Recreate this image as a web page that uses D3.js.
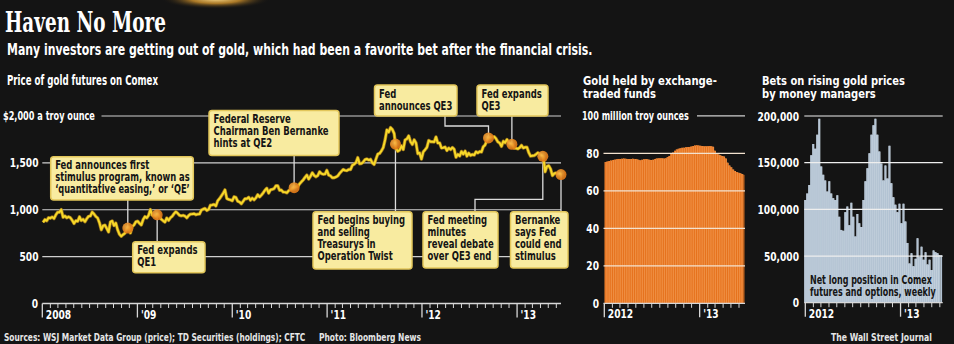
<!DOCTYPE html>
<html><head><meta charset="utf-8">
<script src="https://cdn.jsdelivr.net/npm/d3@7"></script>
<style>html,body{margin:0;padding:0;background:#141414;}svg{display:block;}</style>
</head><body>
<svg id="c" width="954" height="344"></svg>
<script>
// ---------------- DATA ----------------
// Gold futures price, weekly (Fridays) from 2008-01-04, $ per troy ounce
const goldStart = "2008-01-04";
const goldPrice = [
  865,895,882,915, 910,923,906,945,973, 974,1001,920,934, 914,925,915,888, 853,883,877,925,885, 899,872,904,930, 933,975,955,928, 912,861,786,829,836, 800,763,870,880, 831,858,785,737,718, 735,750,792,815, 752,822,838,872,
  878,855,838,895,927, 913,940,1002,942, 940,930,953,925, 898,882,868,912, 887,915,931,958,979, 962,941,935,940, 932,913,938,953,954, 958,947,953,955, 996,1006,1014,992, 1004,1049,1051,1057,1040, 1096,1118,1147,1176, 1212,1120,1110,1105,
  1096,1138,1131,1091,1083, 1064,1091,1118,1118, 1134,1102,1124,1105, 1126,1161,1136,1156,1180, 1209,1229,1177,1213, 1218,1226,1256,1256, 1208,1210,1189,1188,1181, 1204,1215,1227,1236, 1246,1246,1276,1298, 1318,1346,1370,1327,1357, 1394,1366,1352,1364, 1406,1385,1379,1380,1421,
  1369,1361,1342,1341, 1349,1361,1388,1409, 1429,1420,1417,1429, 1429,1474,1486,1504,1556, 1491,1492,1510,1536, 1542,1530,1538,1500, 1483,1541,1594,1601,1628, 1663,1744,1852,1828, 1877,1856,1813,1656,1624, 1636,1682,1642,1745, 1755,1788,1725,1696, 1746,1713,1598,1606,1540,
  1617,1640,1665,1739, 1726,1725,1723,1777, 1711,1713,1659,1662,1669, 1631,1659,1642,1664, 1645,1560,1591,1573, 1622,1593,1627,1572,1604, 1579,1590,1583,1619, 1606,1621,1616,1673,1691, 1740,1770,1773,1775, 1780,1758,1724,1712, 1676,1731,1714,1750,1713, 1705,1696,1657,1656,
  1649,1662,1687,1658, 1667,1667,1609,1572, 1576,1578,1592,1608,1595, 1581,1565,1405,1462, 1470,1434,1365,1386,1393, 1383,1387,1370
];
const priceTicks = [0, 500, 1000, 1500, 2000];
const priceTickLabels = ["0", "500", "1,000", "1,500", "$2,000 a troy ounce"];
const leftYearLabels = ["2008", "'09", "'10", "'11", "'12", "'13"];

const eventDates = ["2008-11-25","2009-03-18","2010-08-27","2011-09-21","2012-09-13","2012-12-12","2013-04-10","2013-06-19"];
const eventTexts = [
  ["Fed announces first", "stimulus program, known as", "\u2018quantitative easing,\u2019 or \u2018QE\u2019"],
  ["Fed expands", "QE1"],
  ["Federal Reserve", "Chairman Ben Bernanke", "hints at QE2"],
  ["Fed begins buying", "and selling", "Treasurys in", "Operation Twist"],
  ["Fed", "announces QE3"],
  ["Fed expands", "QE3"],
  ["Fed meeting", "minutes", "reveal debate", "over QE3 end"],
  ["Bernanke", "says Fed", "could end", "stimulus"]
];

// Gold held by ETFs, weekly from 2012-01-06, million troy ounces
const etfStart = "2012-01-06";
const etfHoldings = [
  75.3,75.6,75.9,76.2, 76.4,76.6,76.8,77.0, 77.0,77.1,77.2,77.1,77.0, 76.9,77.0,77.1,77.0, 77.0,76.6,76.3,76.5, 76.8,76.9,76.8,76.6,76.4,
  76.5,76.9,77.2,77.3, 77.4,77.3,77.2,77.4,78.0, 78.6,79.6,80.4,81.3, 82.0,82.4,82.7,82.9, 83.0,83.2,83.3,83.4,83.6, 83.9,84.2,84.3,84.2,
  84.0,83.9,83.8,83.8, 83.8,83.9,83.8,83.5, 81.4,80.0,79.4,78.9,78.5, 78.3,77.2,75.0,73.5, 72.5,71.4,70.6,70.0,69.6, 69.3,68.9,68.5
];
const etfTicks = [0, 20, 40, 60, 80, 100];
const etfTickLabels = ["0", "20", "40", "60", "80", "100 million troy ounces"];
const midYearLabels = ["2012", "'13"];

// Net long position of money managers in Comex gold futures & options (thousand contracts)
const netLongK = [
  110,117,126,158,170,165,180,197,146,137, 131,119,130,117,112,110,115,92,78,77,
  97,103,83,107,92,71,95,85,81,110, 130,144,160,180,190,197,180,162,149,131,
  147,133,168,128,113,105,97,106,85,106, 87,64,42,53,39,47,69,49,60,46,
  54,41,46,35,56,54,53,51,51
];
const betTicks = [0, 50000, 100000, 150000, 200000];
const betTickLabels = ["0", "50,000", "100,000", "150,000", "200,000"];
const rightYearLabels = ["2012", "'13"];

// ---------------- LAYOUT / STYLE ----------------
const SANS = "'DejaVu Sans Condensed','Liberation Sans Narrow','Arial Narrow',sans-serif";
const SERIF = "'DejaVu Serif Condensed','Liberation Serif',serif";
const GRID = "#cfcfcf";
const svg = d3.select("#c");

const defs = svg.append("defs");
const glow = defs.append("radialGradient").attr("id","glow");
glow.append("stop").attr("offset","0%").attr("stop-color","#f7d88a");
glow.append("stop").attr("offset","45%").attr("stop-color","#c48a2a").attr("stop-opacity",0.85);
glow.append("stop").attr("offset","100%").attr("stop-color","#141414").attr("stop-opacity",0);
const dotG = defs.append("radialGradient").attr("id","dot").attr("cx","40%").attr("cy","40%");
dotG.append("stop").attr("offset","0%").attr("stop-color","#f9b84a");
dotG.append("stop").attr("offset","100%").attr("stop-color","#e07a18");

svg.append("rect").attr("width",954).attr("height",344).attr("fill","#141414");
svg.append("ellipse").attr("cx",216).attr("cy",-1).attr("rx",55).attr("ry",10).attr("fill","url(#glow)");

// text helper: horizontally condensed with a transform so its box matches what is drawn
function label(g, x, y, s, o = {}) {
  const t = g.append("text").attr("x", 0).attr("y", 0).text(s)
    .attr("font-family", o.family || SANS).attr("font-weight", o.weight || "bold")
    .attr("font-size", o.size || 11.5).attr("fill", o.fill || "#fff")
    .attr("text-anchor", o.anchor || "start");
  const w = t.node().getComputedTextLength();
  let k = o.k || 0.8;
  if (o.width) k = o.width / w;
  else if (o.max && w * k > o.max) k = o.max / w;
  t.attr("transform", `translate(${x},${y}) scale(${k.toFixed(4)},1)`);
  return t;
}

// Titles
label(svg, 5, 32, "Haven No More", {family: SERIF, size: 27, width: 161});
label(svg, 7, 55, "Many investors are getting out of gold, which had been a favorite bet after the financial crisis.", {size: 15, width: 586});
label(svg, 7, 85, "Price of gold futures on Comex", {size: 13.5, width: 151});
label(svg, 583, 84.5, "Gold held by exchange-", {size: 12.5, width: 134});
label(svg, 583, 97.5, "traded funds", {size: 12.5, width: 73});
label(svg, 762, 84.5, "Bets on rising gold prices", {size: 12.5, width: 143});
label(svg, 762, 97.5, "by money managers", {size: 12.5, width: 114});
label(svg, 4, 341, "Sources: WSJ Market Data Group (price); TD Securities (holdings); CFTC", {size: 10.5, width: 302, fill: "#e6e6e6"});
label(svg, 319, 341, "Photo: Bloomberg News", {size: 10.5, width: 102, fill: "#e6e6e6"});
label(svg, 831, 341, "The Wall Street Journal", {size: 10.5, width: 101, fill: "#e6e6e6"});

const parse = d3.utcParse("%Y-%m-%d");
const DAY = 864e5, WEEK = 7 * DAY;

// shared axis drawer
function timeAxis(g, x, y0, from, to, labels, x0, x1) {
  g.append("line").attr("x1", x0).attr("x2", x1).attr("y1", y0).attr("y2", y0)
    .attr("stroke", "#d8d8d8").attr("stroke-width", 1.3);
  const months = d3.utcMonth.range(from, to);
  g.selectAll(null).data(months).join("line")
    .attr("x1", d => x(d)).attr("x2", d => x(d))
    .attr("y1", y0).attr("y2", d => y0 + (d.getUTCMonth() === 0 ? 14 : 4.5))
    .attr("stroke", "#d8d8d8").attr("stroke-width", d => d.getUTCMonth() === 0 ? 1.3 : 1);
  months.filter(d => d.getUTCMonth() === 0).forEach((d, i) => {
    label(g, x(d) + 3.5, y0 + 15, labels[i], {size: 11.5, k: 0.88});
  });
}

// ---------------- LEFT: gold price ----------------
const L = svg.append("g");
const xL = d3.scaleUtc().domain([parse("2008-01-01"), parse("2013-06-19")]).range([42.3, 561]);
const yL = d3.scaleLinear().domain([0, 2000]).range([303.5, 116]);

priceTicks.forEach((t, i) => {
  if (t === 0) { label(L, 38, yL(t) + 4, priceTickLabels[i], {anchor: "end", k: 0.88}); return; }
  const x0 = t === 2000 ? 101.5 : 42.3;
  L.append("line").attr("x1", x0).attr("x2", 561).attr("y1", yL(t)).attr("y2", yL(t))
    .attr("stroke", GRID).attr("stroke-width", 1.2);
  if (t === 2000) label(L, 3, yL(t) + 4, priceTickLabels[i], {width: 92});
  else label(L, 38.5, yL(t) + 4.5, priceTickLabels[i], {anchor: "end", k: 0.88});
});
timeAxis(L, xL, yL(0), parse("2008-01-01"), parse("2013-06-20"), leftYearLabels, 42.3, 561);

const g0 = parse(goldStart).getTime();
const goldPts = goldPrice.map((v, i) => ({d: new Date(g0 + i * WEEK), v}));
function priceAt(date) {
  const f = (date.getTime() - g0) / WEEK;
  const i = Math.max(0, Math.min(goldPrice.length - 2, Math.floor(f)));
  const t = f - i;
  return goldPrice[i] * (1 - t) + goldPrice[i + 1] * t;
}

// annotation box layout: box rect, optional leader anchor x on box & elbow y
const boxes = [
  {x: 50.7, y: 156.7, w: 142.6, h: 43.3},
  {x: 132.7, y: 241.7, w: 72.3, h: 31},
  {x: 209, y: 110.5, w: 130, h: 45},
  {x: 313, y: 211.7, w: 99, h: 57.3},
  {x: 374.5, y: 85, w: 82.5, h: 31, ax: 445, ey: 126},
  {x: 477, y: 85, w: 71, h: 31},
  {x: 423, y: 211.7, w: 75, h: 56.3, ax: 475, ey: 199.3},
  {x: 510.5, y: 211.7, w: 57.5, h: 56.3}
];

const events = eventDates.map((s, i) => {
  const d = parse(s);
  return {d, v: priceAt(d), lines: eventTexts[i], box: boxes[i]};
});

// leaders
events.forEach(e => {
  const cx = xL(e.d), cy = yL(e.v), b = e.box;
  const edge = (b.y + b.h < cy) ? b.y + b.h : b.y;
  const p = d3.path();
  if (b.ax === undefined) { p.moveTo(cx, edge); p.lineTo(cx, cy); }
  else { p.moveTo(b.ax, edge); p.lineTo(b.ax, b.ey); p.lineTo(cx, b.ey); p.lineTo(cx, cy); }
  L.append("path").attr("d", p.toString()).attr("fill", "none")
    .attr("stroke", "#dcdcdc").attr("stroke-width", 1.3);
});

const line = d3.line().x(d => xL(d.d)).y(d => yL(d.v));
L.append("path").datum(goldPts).attr("d", line).attr("fill", "none")
  .attr("stroke", "#b98a1c").attr("stroke-width", 3.4).attr("stroke-linejoin", "round").attr("opacity", 0.8);
L.append("path").datum(goldPts).attr("d", line).attr("fill", "none")
  .attr("stroke", "#f7d829").attr("stroke-width", 2).attr("stroke-linejoin", "round");

L.selectAll(null).data(events).join("circle")
  .attr("cx", e => xL(e.d)).attr("cy", e => yL(e.v)).attr("r", 5.5)
  .attr("fill", "url(#dot)").attr("opacity", 0.92);

events.forEach(e => {
  const b = e.box;
  L.append("rect").attr("x", b.x).attr("y", b.y).attr("width", b.w).attr("height", b.h)
    .attr("rx", 3).attr("fill", "#f8eba0").attr("stroke", "#e2c65a").attr("stroke-width", 1.5);
  e.lines.forEach((s, j) => {
    label(L, b.x + 4.5, b.y + 12.5 + j * 12, s, {size: 11.5, fill: "#141414", k: 0.82, max: b.w - 8});
  });
});

// ---------------- MIDDLE: ETF holdings ----------------
const M = svg.append("g");
const xM = d3.scaleUtc().domain([parse("2012-01-01"), parse("2013-06-24")]).range([604.3, 745]);
const yM = d3.scaleLinear().domain([0, 100]).range([303.3, 115.8]);
const e0 = parse(etfStart).getTime();
const etfPts = etfHoldings.map((v, i) => ({d: new Date(e0 + i * WEEK), v}));
const lo = d => xM(new Date(d.d.getTime() - 3.5 * DAY));
const hi = d => xM(new Date(d.d.getTime() + 3.5 * DAY));

M.append("path").datum(etfPts)
  .attr("d", d3.area().curve(d3.curveStepAfter).x(lo).y0(yM(0)).y1(d => yM(d.v)))
  .attr("fill", "#f29a52");
M.selectAll(null).data(etfPts).join("rect")
  .attr("x", lo).attr("width", d => hi(d) - lo(d) - 0.7)
  .attr("y", d => yM(d.v)).attr("height", d => yM(0) - yM(d.v))
  .attr("fill", "#e6721d");

etfTicks.forEach((t, i) => {
  if (t === 0) { label(M, 599, yM(t) + 4.5, etfTickLabels[i], {anchor: "end", k: 0.88}); return; }
  const x0 = t === 100 ? 697 : 603.5;
  M.append("line").attr("x1", x0).attr("x2", 745).attr("y1", yM(t)).attr("y2", yM(t))
    .attr("stroke", t === 100 ? GRID : "#f3e2cf").attr("stroke-width", 1.2);
  if (t === 100) label(M, 582, yM(t) + 4, etfTickLabels[i], {width: 107});
  else label(M, 599, yM(t) + 4.5, etfTickLabels[i], {anchor: "end", k: 0.88});
});
timeAxis(M, xM, yM(0), parse("2012-01-01"), parse("2013-06-24"), midYearLabels, 603.5, 745);

// ---------------- RIGHT: net long bets ----------------
const R = svg.append("g");
const xR = d3.scaleUtc().domain([parse("2012-01-01"), parse("2013-06-12")]).range([805.3, 942.7]);
const xRb = d3.scaleBand().domain(d3.range(netLongK.length)).range([804.3, 942.7]).padding(0);
const yR = d3.scaleLinear().domain([0, 200000]).range([302.7, 116]);

R.append("path").datum(netLongK)
  .attr("d", d3.area().curve(d3.curveStepAfter).x((d, i) => xRb(i)).y0(yR(0)).y1(d => yR(d * 1000)))
  .attr("fill", "#c9d5e0");
R.selectAll(null).data(netLongK).join("rect")
  .attr("x", (d, i) => xRb(i)).attr("width", xRb.bandwidth() - 0.6)
  .attr("y", d => yR(d * 1000)).attr("height", d => yR(0) - yR(d * 1000))
  .attr("fill", "#b2c2d2");

betTicks.forEach((t, i) => {
  label(R, 799, yR(t) + 4.5, betTickLabels[i], {anchor: "end", k: 0.88});
  if (t === 0) return;
  R.append("line").attr("x1", 804.3).attr("x2", 942.7).attr("y1", yR(t)).attr("y2", yR(t))
    .attr("stroke", "#eeeeee").attr("stroke-width", 1.2);
});
timeAxis(R, xR, yR(0), parse("2012-01-01"), parse("2013-06-12"), rightYearLabels, 804.3, 942.7);

label(R, 810, 284, "Net long position in Comex", {size: 11.5, fill: "#141414", width: 122});
label(R, 810, 296, "futures and options, weekly", {size: 11.5, fill: "#141414", width: 126});
</script>
</body></html>
